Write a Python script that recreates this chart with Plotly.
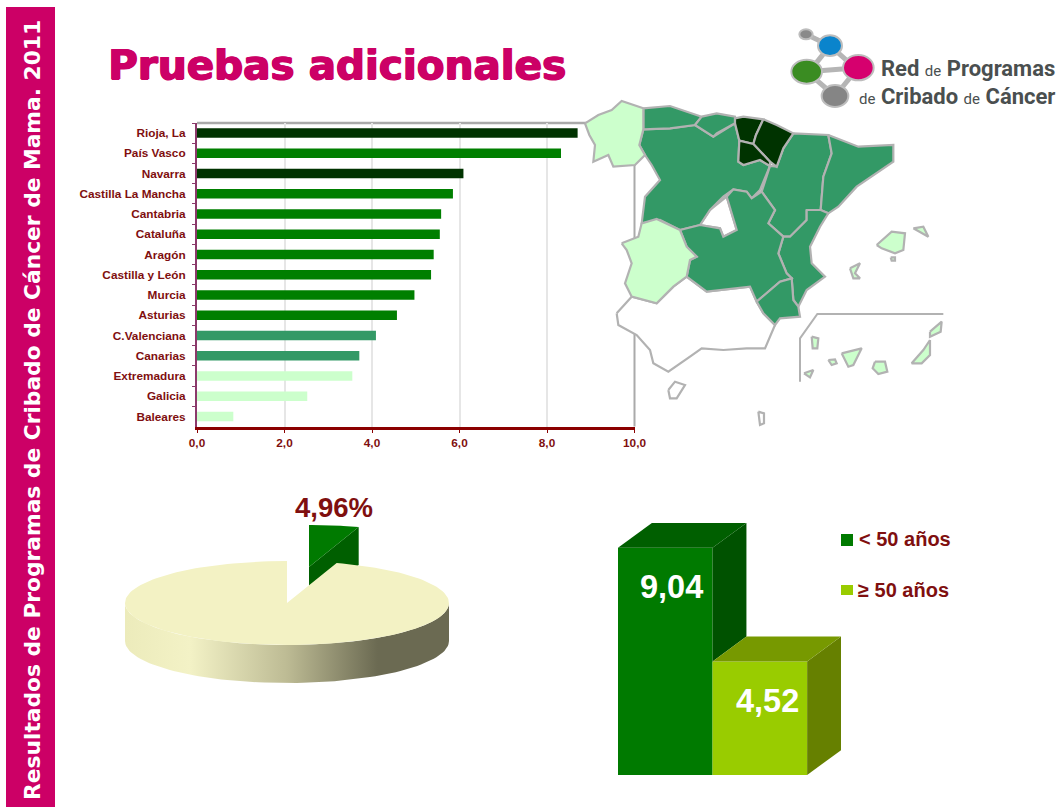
import numpy as np
import plotly.graph_objects as go

W, H = 1061, 807

# ---- data ----
regions = ["Rioja, La", "País Vasco", "Navarra", "Castilla La Mancha", "Cantabria", "Cataluña", "Aragón",
           "Castilla y León", "Murcia", "Asturias", "C.Valenciana", "Canarias", "Extremadura", "Galicia", "Baleares"]
region_values = [8.70, 8.32, 6.09, 5.85, 5.58, 5.55, 5.41, 5.35, 4.97, 4.57, 4.09, 3.71, 3.55, 2.52, 0.83]
region_class = ["d", "m", "d", "m", "m", "m", "m", "m", "m", "m", "s", "s", "l", "l", "l"]
x_ticks = [0, 2, 4, 6, 8, 10]
x_tick_labels = ["0,0", "2,0", "4,0", "6,0", "8,0", "10,0"]
pie_values = [4.96, 95.04]
age_labels = ["< 50 años", "≥ 50 años"]
age_values = [9.04, 4.52]

# ---- styles ----
bar_cols = {"d": "#003300", "m": "#007f00", "s": "#339966", "l": "#ccffcc"}
MAP_D, MAP_S, MAP_L = "#003300", "#339966", "#ccffcc"
MAP_LINE = "#b2b2b2"
RED = "#7f0f0f"
PINK = "#cc0066"


def px(x):
    return x / W


def py(y):
    return 1 - y / H


fig = go.Figure()

# ---- horizontal bar chart ----
fig.add_trace(go.Bar(y=regions, x=region_values, orientation="h", xaxis="x", yaxis="y",
                     marker=dict(color=[bar_cols[c] for c in region_class], line=dict(width=0)),
                     hoverinfo="skip", showlegend=False))


def zoomed(points):
    """map outline points, measured on a 3x crop whose origin is (580, 20)"""
    return [580 + p[0] / 3 for p in points], [20 + p[1] / 3 for p in points]


def poly(points, fill, lw=2.2, line=MAP_LINE):
    xs, ys = zoomed(points + points[:1])
    fig.add_trace(go.Scatter(x=xs, y=ys, xaxis="x2", yaxis="y2", mode="lines", fill="toself", fillcolor=fill,
                             line=dict(color=line, width=lw), hoverinfo="skip", showlegend=False))


# ---- map of Spain ----
map_regions = [
    ("Andalucia", "#ffffff", [(110,880),(155,830),(230,850),(280,800),(320,770),(380,815),(510,800),(530,845),(550,880),(585,915),(555,985),(500,985),(430,990),(365,985),(330,1010),(265,1055),(220,1030),(210,990),(170,945),(115,915)]),
    ("Madrid", "#ffffff", [(440,530),(470,630),(430,650),(420,625),(360,615),(390,570)]),
    ("CyL", MAP_S, [(190,328),(270,325),(345,315),(400,350),(465,310),(478,362),(475,425),(490,435),(540,420),(570,438),(540,510),(515,535),(500,515),(460,508),(430,530),(390,570),(360,615),(300,630),(240,600),(185,610),(195,530),(240,480),(215,435),(195,405),(178,375)]),
    ("Asturias", MAP_S, [(190,265),(270,258),(365,290),(345,315),(270,325),(190,328)]),
    ("Cantabria", MAP_S, [(365,290),(410,280),(465,290),(465,310),(410,340),(400,350),(345,315)]),
    ("Aragon", MAP_S, [(640,340),(745,345),(755,400),(730,470),(722,570),(680,570),(680,600),(630,650),(610,650),(565,610),(585,570),(545,515),(570,438),(590,440),(610,385)]),
    ("Cataluna", MAP_S, [(745,345),(835,380),(940,375),(940,425),(830,500),(775,560),(745,580),(722,570),(730,470),(755,400)]),
    ("Valencia", MAP_S, [(680,570),(722,570),(745,580),(720,620),(690,680),(695,730),(735,770),(680,810),(655,860),(640,840),(635,775),(620,760),(595,700),(610,650),(630,650),(680,600)]),
    ("CLM", MAP_S, [(300,630),(360,615),(420,625),(430,650),(470,630),(440,530),(460,508),(500,515),(515,535),(545,515),(585,570),(565,610),(610,650),(595,700),(620,760),(635,775),(600,785),(530,845),(510,800),(380,815),(320,770),(330,720),(350,710),(320,680)]),
    ("Murcia", MAP_S, [(530,845),(600,785),(635,775),(640,840),(655,860),(660,890),(600,895),(585,915),(550,880)]),
    ("Galicia", MAP_L, [(15,310),(55,285),(95,270),(125,243),(190,265),(190,328),(178,375),(195,405),(165,435),(100,440),(85,405),(40,425),(45,375),(28,345)]),
    ("Extremadura", MAP_L, [(125,670),(175,650),(185,610),(230,597),(300,630),(320,680),(350,710),(330,720),(320,770),(280,800),(230,850),(155,830),(135,790),(155,730),(140,690)]),
    ("Pais Vasco", MAP_D, [(465,295),(490,290),(550,298),(528,345),(520,372),(478,362),(465,310)]),
    ("Navarra", MAP_D, [(550,298),(590,315),(640,340),(610,385),(590,440),(570,425),(520,372),(528,345)]),
    ("Rioja", MAP_D, [(478,362),(520,372),(570,425),(570,438),(540,420),(490,435),(475,425)]),
    ("Mallorca", MAP_L, [(890,675),(935,635),(975,640),(970,690),(945,700),(905,685)]),
    ("Menorca", MAP_L, [(1000,625),(1030,620),(1045,650),(1020,635)]),
    ("Ibiza", MAP_L, [(810,745),(840,730),(825,760),(840,775),(820,775)]),
    ("Formentera", MAP_L, [(932,712),(945,712),(945,722),(935,722)]),
    ("Ceuta", "#ffffff", [(265,1110),(285,1085),(315,1095),(290,1135),(270,1135)]),
    ("Melilla", "#ffffff", [(535,1175),(552,1180),(552,1210),(540,1215)]),
    ("La Palma", MAP_L, [(695,950),(715,955),(712,985),(698,985)]),
    ("Gomera", MAP_L, [(745,1020),(765,1018),(770,1030),(755,1035)]),
    ("Tenerife", MAP_L, [(785,1000),(845,985),(820,1035),(805,1040)]),
    ("Gran Canaria", MAP_L, [(885,1025),(915,1025),(922,1055),(895,1062),(878,1045)]),
    ("Fuerteventura", MAP_L, [(1050,960),(1050,1005),(1025,1030),(995,1030),(1030,990)]),
    ("Lanzarote", MAP_L, [(1050,935),(1085,905),(1082,935),(1050,950)]),
    ("Hierro", MAP_L, [(672,1060),(700,1050),(690,1072)]),
]
for name, col, pts in map_regions:
    poly(pts, col)

fx, fy = zoomed([(660, 1085), (660, 955), (712, 882), (1090, 882)])
fig.add_trace(go.Scatter(x=fx, y=fy, xaxis="x2", yaxis="y2", mode="lines", line=dict(color=MAP_LINE, width=2),
                         hoverinfo="skip", showlegend=False))

# ---- 3-D pie, geometry derived from pie_values ----
cx, cy, rx, ry, depth = 287, 603, 162, 42, 38
off_x, off_y = 22, -36
a_slice = 2 * np.pi * pie_values[0] / sum(pie_values)


def ell(t, dx=0, dy=0):
    return cx + dx + rx * np.sin(t), cy + dy - ry * np.cos(t)


# exploded slice: side then top
t = np.linspace(0, a_slice, 20)
ex, ey = ell(t, off_x, off_y)
sx = [cx + off_x, ex[-1], ex[-1], cx + off_x]
sy = [cy + off_y, ey[-1], ey[-1] + depth, cy + off_y + depth]
fig.add_trace(go.Scatter(x=sx, y=sy, xaxis="x2", yaxis="y2", mode="lines", fill="toself", fillcolor="#005f00",
                         line=dict(width=0), hoverinfo="skip", showlegend=False))
fig.add_trace(go.Scatter(x=[cx + off_x, *ex, cx + off_x], y=[cy + off_y, *ey, cy + off_y], xaxis="x2", yaxis="y2",
                         mode="lines", fill="toself", fillcolor="#007a00", line=dict(width=0),
                         hoverinfo="skip", showlegend=False))
# side of the pie
t = np.linspace(np.pi / 2, 3 * np.pi / 2, 80)
tx, ty = ell(t)
fig.add_trace(go.Scatter(x=[*tx, *tx[::-1]], y=[*ty, *(ty[::-1] + depth)], xaxis="x2", yaxis="y2", mode="lines",
                         fill="toself", line=dict(width=0),
                         fillgradient=dict(type="horizontal",
                                           colorscale=[[0, "#ecebbb"], [0.2, "#f3f2c6"], [0.5, "#bdbb94"],
                                                       [0.78, "#6b6a52"], [1, "#6b6a52"]]),
                         hoverinfo="skip", showlegend=False))
# top of the pie
t = np.linspace(a_slice, 2 * np.pi, 160)
tx, ty = ell(t)
fig.add_trace(go.Scatter(x=[cx, *tx, cx], y=[cy, *ty, cy], xaxis="x2", yaxis="y2", mode="lines", fill="toself",
                         fillcolor="#f3f2c4", line=dict(width=0), hoverinfo="skip", showlegend=False))

# ---- 3-D bars ----
dx3, dy3 = 0.358, 0.99
c_front = ["#007a00", "#99cc00"]
c_top = ["#005f00", "#779900"]
c_side = ["#005200", "#668000"]
fig.add_trace(go.Bar(x=[0, 1], y=age_values, width=1, xaxis="x3", yaxis="y3", marker=dict(color=c_front, line=dict(width=0)),
                     hoverinfo="skip", showlegend=False))


def face(xs, ys, col):
    fig.add_trace(go.Scatter(x=xs, y=ys, xaxis="x3", yaxis="y3", mode="lines", fill="toself", fillcolor=col,
                             line=dict(width=0), hoverinfo="skip", showlegend=False))


v1, v2 = age_values
face([0.5, 0.5 + dx3, 0.5 + dx3, 0.5], [v1, v1 + dy3, v2 + dy3, v2], c_side[0])
face([-0.5, -0.5 + dx3, 0.5 + dx3, 0.5], [v1, v1 + dy3, v1 + dy3, v1], c_top[0])
face([1.5, 1.5 + dx3, 1.5 + dx3, 1.5], [v2, v2 + dy3, dy3, 0], c_side[1])
face([0.5, 0.5 + dx3, 1.5 + dx3, 1.5], [v2, v2 + dy3, v2 + dy3, v2], c_top[1])

# ---- annotations ----
anns = []


def text(x, y, s, size, color, family="Liberation Sans", bold=True, xanchor="center", textangle=0, shadow=None):
    f = dict(family=family, size=size, color=color, weight=700 if bold else 400)
    if shadow:
        f["shadow"] = shadow
    anns.append(dict(x=px(x), y=py(y), xref="paper", yref="paper", text=s, showarrow=False, xanchor=xanchor,
                     yanchor="middle", textangle=textangle, font=f))


text(32, 410, "Resultados de Programas de Cribado de Cáncer de Mama. 2011", 21.75, "#ffffff",
     family="DejaVu Sans", textangle=-90)
text(106, 65, "Pruebas adicionales", 40.5, PINK, family="DejaVu Sans", xanchor="left",
     shadow="1px 0 0 #cc0066, -0.6px 0 0 #cc0066, 0 0.6px 0 #cc0066")
text(334, 508, f"{pie_values[0]:.2f}".replace(".", ",") + "%", 27.5, RED)
text(671.5, 587, f"{age_values[0]:.2f}".replace(".", ","), 32.5, "#ffffff")
text(767, 701, f"{age_values[1]:.2f}".replace(".", ","), 32.5, "#ffffff")
text(857, 539, age_labels[0], 20, RED, xanchor="left")
text(856, 590, age_labels[1], 20, RED, xanchor="left")

logo_big = "font-size:22px"
logo_small = "font-size:15px;font-weight:400"
anns.append(dict(x=px(1057), y=py(68), xref="paper", yref="paper", showarrow=False, xanchor="right", yanchor="middle",
                 text=f'<span style="{logo_big}">Red</span> <span style="{logo_small}">de</span> '
                      f'<span style="{logo_big}">Programas</span>',
                 font=dict(family="Roboto", size=22, color="#4a4f4f", weight=700)))
anns.append(dict(x=px(1057), y=py(97), xref="paper", yref="paper", showarrow=False, xanchor="right", yanchor="middle",
                 text=f'<span style="{logo_small}">de</span> <span style="{logo_big}">Cribado</span> '
                      f'<span style="{logo_small}">de</span> <span style="{logo_big}">Cáncer</span>',
                 font=dict(family="Roboto", size=22, color="#4a4f4f", weight=700)))

# ---- shapes: sidebar, spines, legend keys, logo ----
shapes = [
    dict(type="rect", xref="paper", yref="paper", x0=px(6), x1=px(55), y0=py(7), y1=py(807), fillcolor=PINK,
         line=dict(width=0), layer="below"),
    dict(type="line", xref="x domain", yref="y domain", x0=0, x1=1, y0=1, y1=1, line=dict(color="#aaaaaa", width=2.5),
         layer="below"),
    dict(type="line", xref="x domain", yref="y domain", x0=1, x1=1, y0=0, y1=1, line=dict(color="#aaaaaa", width=2),
         layer="below"),
    dict(type="rect", xref="paper", yref="paper", x0=px(841), x1=px(853), y0=py(534), y1=py(546), fillcolor=c_front[0],
         line=dict(width=0)),
    dict(type="rect", xref="paper", yref="paper", x0=px(841), x1=px(853), y0=py(585), y1=py(595), fillcolor=c_front[1],
         line=dict(width=0)),
]


def zp(p):
    return 580 + p[0] / 3, 20 + p[1] / 3


for a, b in [((678, 43), (750, 77)), ((750, 77), (700, 140)), ((750, 77), (810, 130)), ((680, 155), (835, 143)),
             ((835, 143), (765, 228)), ((680, 155), (765, 228))]:
    (x0, y0), (x1, y1) = zp(a), zp(b)
    shapes.append(dict(type="line", xref="paper", yref="paper", x0=px(x0), x1=px(x1), y0=py(y0), y1=py(y1),
                       line=dict(color="#b5b5b5", width=5)))
(xc, yc) = zp((750, 122))
shapes.append(dict(type="circle", xref="paper", yref="paper", x0=px(xc - 6), x1=px(xc + 6), y0=py(yc + 5), y1=py(yc - 5),
                   fillcolor="#ffffff", line=dict(width=0)))
for (zx, zy, zrx, zry, col) in [(680, 155, 46, 36, "#3a8c22"), (835, 143, 46, 38, "#d6006e"), (750, 77, 36, 31, "#0a84cc"),
                                (765, 228, 40, 33, "#858585"), (678, 43, 20, 15, "#8a8a8a")]:
    xc, yc = zp((zx, zy))
    shapes.append(dict(type="circle", xref="paper", yref="paper", x0=px(xc - zrx / 3), x1=px(xc + zrx / 3),
                       y0=py(yc + zry / 3), y1=py(yc - zry / 3), fillcolor=col, line=dict(color="#bdbdbd", width=2)))

# ---- layout ----
hidden = dict(visible=False, fixedrange=True)
fig.update_layout(
    width=W, height=H, margin=dict(l=0, r=0, t=0, b=0, pad=0, autoexpand=False), autosize=False, paper_bgcolor="#ffffff",
    plot_bgcolor="rgba(0,0,0,0)",
    showlegend=False, bargap=0.53, annotations=anns, shapes=shapes,
    xaxis=dict(domain=[px(197), px(634.5)], range=[0, 10], tickvals=x_ticks, ticktext=x_tick_labels, showgrid=True,
               gridcolor="#e6e6e6", gridwidth=2, zeroline=False, showline=True, linecolor="#8b0000", linewidth=3,
               ticks="outside", ticklen=3, tickcolor="#8b0000", anchor="y",
               tickfont=dict(family="Liberation Sans", size=11.8, color=RED, weight=700)),
    yaxis=dict(domain=[py(426.5), py(123)], autorange=False, range=[14.5, -0.5], type="category", categoryorder="array",
               categoryarray=regions, tickson="boundaries", ticks="outside", ticklen=3, tickcolor="#8b3a6b", showline=True,
               linecolor="#8b3a6b", linewidth=2, showgrid=False, anchor="x", ticklabelstandoff=7,
               tickfont=dict(family="Liberation Sans", size=11.8, color=RED, weight=700)),
    xaxis2=dict(domain=[0, 1], range=[0, W], anchor="y2", **hidden),
    yaxis2=dict(domain=[0, 1], range=[H, 0], anchor="x2", **hidden),
    xaxis3=dict(domain=[px(618), px(841)], range=[-0.5, 1.5 + dx3], anchor="y3", **hidden),
    yaxis3=dict(domain=[py(775), py(523)], range=[0, age_values[0] + dy3], anchor="x3", **hidden),
)

fig.write_html("out.html", config={"displayModeBar": False}, post_script="document.body.style.margin='0';")
